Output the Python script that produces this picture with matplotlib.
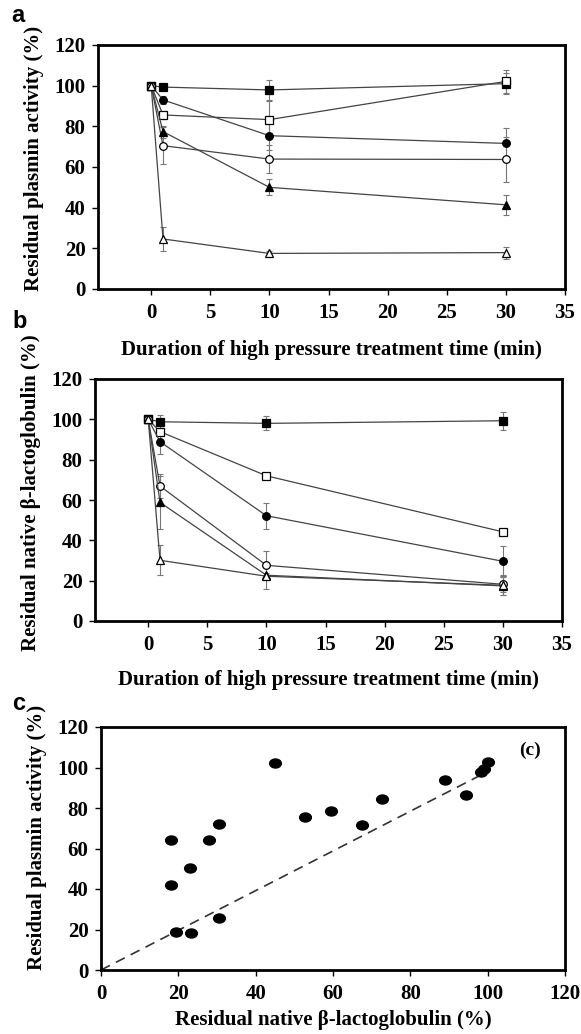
import matplotlib
matplotlib.use('Agg')
import matplotlib.pyplot as plt
from matplotlib.markers import MarkerStyle
from matplotlib.transforms import Affine2D

plt.rcParams['font.family'] = 'Liberation Serif'
plt.rcParams['font.weight'] = 'bold'

# treatment times (min)
times = [0, 1, 10, 30]

# panel a: residual plasmin activity (%)
pl_fsq = [100, 99.3, 97.9, 101.0]
pl_osq = [100, 85.6, 83.3, 102.1]
pl_fci = [100, 93.0, 75.4, 71.6]
pl_oci = [100, 70.5, 63.9, 63.7]
pl_ftr = [100, 77.4, 50.0, 41.4]
pl_otr = [100, 24.6, 17.5, 17.9]
pl_err_fsq = [0, 1, 5, 5]
pl_err_osq = [0, 2, 9, 5.5]
pl_err_fci = [0, 2, 7, 7.5]
pl_err_oci = [0, 9, 7, 11]
pl_err_ftr = [0, 3, 4, 5]
pl_err_otr = [0, 6, 1, 3]

# panel b: residual native beta-lactoglobulin (%)
lg_fsq = [100, 98.8, 98.0, 99.3]
lg_osq = [100, 93.9, 72.0, 44.2]
lg_fci = [100, 88.9, 52.2, 29.6]
lg_oci = [100, 66.9, 27.6, 18.2]
lg_ftr = [100, 58.8, 22.7, 17.4]
lg_otr = [100, 30.1, 22.2, 17.7]
lg_err_fsq = [0, 3.5, 3.5, 4.5]
lg_err_osq = [0, 1.5, 1, 1]
lg_err_fci = [0, 6, 6.5, 7.5]
lg_err_oci = [0, 6, 7, 4]
lg_err_ftr = [0, 13, 1, 4.5]
lg_err_otr = [0, 7.5, 6.5, 5]

# panel c: scatter of plasmin activity vs native beta-lg
sc_lg = [18.1, 18.1, 19.3, 23.1, 23.4, 27.9, 30.5, 30.5, 45.0,
         52.7, 59.5, 67.4, 72.7, 88.9, 94.3, 98.4, 99.0, 100.0]
sc_pl = [64.3, 42.0, 18.6, 50.3, 18.3, 64.3, 71.9, 25.5, 102.2,
         75.8, 78.3, 71.4, 84.2, 94.0, 86.5, 98.0, 99.5, 102.5]
fit_x = [0, 100]
fit_y = [0, 98]

W, H = 581, 1034
fig = plt.figure(figsize=(W / 100, H / 100), dpi=100)


def px_axes(left, right, top, bottom):
    return fig.add_axes([left / W, 1 - bottom / H, (right - left) / W, (bottom - top) / H])


def style(ax, xlim, xticks, ylabel, xlabel, ylab_y):
    ax.set_ylim(0, 120)
    ax.set_yticks(range(0, 121, 20))
    ax.set_xlim(*xlim)
    ax.set_xticks(xticks)
    for s in ax.spines.values():
        s.set_linewidth(2)
    ax.tick_params(direction='out', length=4, width=1, labelsize=15)
    ax.tick_params(axis='y', pad=5)
    ax.tick_params(axis='x', pad=6)
    ax.set_ylabel(ylabel, fontsize=15, fontweight='bold', va='center')
    ax.set_xlabel(xlabel, fontsize=15, fontweight='bold', va='center')
    ax.yaxis.set_label_coords(-0.137, ylab_y)


series_style = [
    ('s', 'black'), ('s', 'white'), ('o', 'black'),
    ('o', 'white'), ('^', 'black'), ('^', 'white'),
]


def draw_series(ax, data, errs):
    for (m, fc), y, e in zip(series_style, data, errs):
        ax.errorbar(times, y, yerr=e, fmt='none', ecolor='#777777',
                    elinewidth=0.8, capsize=2.5, capthick=0.8, zorder=2)
        ax.plot(times, y, '-', color='#444444', lw=0.9, marker=m, ms=5.5,
                mfc=fc, mec='black', mew=0.9, zorder=3)


xlab = 'Duration of high pressure treatment time (min)'
lg_lab = 'Residual native β-lactoglobulin (%)'
pl_lab = 'Residual plasmin activity (%)'

# panel a
ax1 = px_axes(98, 565, 45, 289)
draw_series(ax1, [pl_fsq, pl_osq, pl_fci, pl_oci, pl_ftr, pl_otr],
            [pl_err_fsq, pl_err_osq, pl_err_fci, pl_err_oci, pl_err_ftr, pl_err_otr])
style(ax1, (-4.5, 35), range(0, 36, 5), pl_lab, xlab, 0.537)
ax1.xaxis.set_label_coords(0.5, -(350 - 289) / 244)

# panel b
ax2 = px_axes(95, 562, 379, 621)
draw_series(ax2, [lg_fsq, lg_osq, lg_fci, lg_oci, lg_ftr, lg_otr],
            [lg_err_fsq, lg_err_osq, lg_err_fci, lg_err_oci, lg_err_ftr, lg_err_otr])
style(ax2, (-4.5, 35), range(0, 36, 5), lg_lab, xlab, 0.53)
ax2.xaxis.set_label_coords(0.5, -(680 - 621) / 242)

# panel c
ax3 = px_axes(101, 565, 727, 970)
ell = MarkerStyle('o', transform=Affine2D().scale(1.3, 1.0))
ax3.plot(fit_x, fit_y, '--', color='#333333', lw=1.2, dashes=(6, 4), zorder=2)
ax3.plot(sc_lg, sc_pl, ls='none', marker=ell, ms=6.5, color='black', zorder=3)
style(ax3, (0, 120), range(0, 121, 20), pl_lab, lg_lab, 0.545)
ax3.xaxis.set_label_coords(0.5, -(1020 - 970) / 243)
ax3.text(111, 108.5, '(c)', fontsize=14, fontweight='bold', ha='center', va='center')

# panel letters
for lab, x, y in [('a', 18, 15), ('b', 20, 322), ('c', 19, 704)]:
    fig.text(x / W, 1 - y / H, lab, fontsize=17, fontweight='bold',
             family='Liberation Sans', ha='center', va='center')

fig.savefig('out.png', dpi=100)
